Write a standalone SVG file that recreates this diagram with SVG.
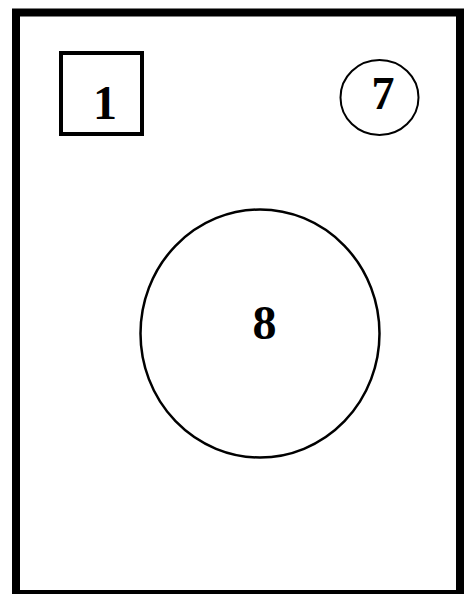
<svg xmlns="http://www.w3.org/2000/svg" width="464" height="594" viewBox="0 0 464 594">
<style>
.shape{fill:none;stroke:#000}
.lbl{font-family:"Liberation Serif","Times New Roman",serif;font-weight:bold;fill:#000;text-anchor:middle}
</style>
<rect width="464" height="594" fill="#fff"/>
<rect class="shape" x="16" y="12.5" width="444" height="581.5" stroke-width="8"/>
<g id="node1">
<rect class="shape" x="61" y="53" width="81" height="81" stroke-width="4"/>
<text class="lbl" x="105" y="119" font-size="48">1</text>
</g>
<g id="node7">
<ellipse class="shape" cx="379.5" cy="97.5" rx="39" ry="37.5" stroke-width="2"/>
<text class="lbl" x="383" y="109" font-size="46">7</text>
</g>
<g id="node8">
<ellipse class="shape" cx="260" cy="333.5" rx="119.5" ry="124" stroke-width="2.5"/>
<text class="lbl" x="264.5" y="339" font-size="48">8</text>
</g>
<g id="connectors"></g>
</svg>
